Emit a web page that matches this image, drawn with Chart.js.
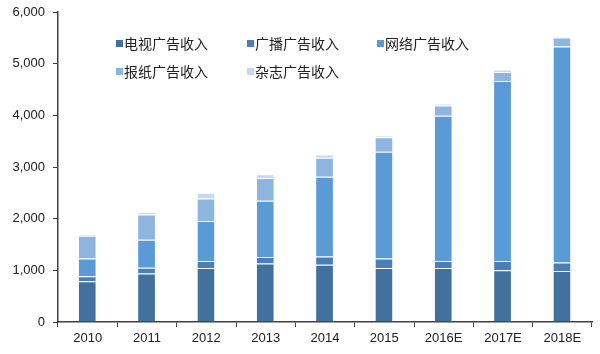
<!DOCTYPE html>
<html>
<head>
<meta charset="utf-8">
<script src="https://cdn.jsdelivr.net/npm/chart.js@4"></script>
<style>
  html,body{margin:0;padding:0;background:#fff}
  #wrap{width:600px;height:354px}
</style>
</head>
<body>
<div id="wrap"><canvas id="c"></canvas></div>
<script>
const years = ['2010','2011','2012','2013','2014','2015','2016E','2017E','2018E']
const tv        = [790, 940, 1045, 1130, 1110, 1045, 1045, 1000, 985]
const radio     = [95, 110, 135, 130, 160, 185, 135, 180, 165]
const online    = [345, 540, 775, 1085, 1540, 2065, 2810, 3485, 4180]
const newspaper = [440, 490, 435, 440, 370, 280, 200, 175, 175]
const magazine  = [30, 50, 110, 75, 60, 30, 35, 45, 25]
const seriesNames = ['电视广告收入','广播广告收入','网络广告收入','报纸广告收入','杂志广告收入']
const colors = ['#41719c','#4a7eb8','#5b9bd5','#8eb4e0','#c5d9f1']
const yTicks = [0,1000,2000,3000,4000,5000,6000]

const allData = [tv, radio, online, newspaper, magazine]

// legend laid out inside the plot, 3 columns x 2 rows
const legendBox = {
  id: 'legendBox',
  afterDraw(chart) {
    const ctx = chart.ctx
    const cols = [116, 247, 377], rows = [44, 72]
    ctx.save()
    ctx.font = '14px "Noto Sans CJK SC"'
    ctx.textBaseline = 'middle'
    seriesNames.forEach((n, i) => {
      const x = cols[i % 3], y = rows[Math.floor(i / 3)]
      ctx.fillStyle = colors[i]
      ctx.fillRect(x, y - 4, 7, 7)
      ctx.fillStyle = '#222'
      ctx.fillText(n, x + 8, y)
    })
    ctx.restore()
  }
}

new Chart(document.getElementById('c'), {
  type: 'bar',
  data: {
    labels: years,
    datasets: allData.map((d, i) => ({
      label: seriesNames[i],
      data: d,
      backgroundColor: colors[i],
      borderColor: 'rgba(255,255,255,0.6)',
      borderWidth: {top: 1, right: 1, left: 0, bottom: 0},
      barPercentage: 0.3,
      categoryPercentage: 1
    }))
  },
  options: {
    responsive: true,
    maintainAspectRatio: false,
    animation: false,
    layout: { padding: { top: 12, right: 8, left: 0, bottom: 0 } },
    plugins: { legend: { display: false }, tooltip: { enabled: false } },
    scales: {
      x: {
        stacked: true,
        grid: { display: true, drawOnChartArea: false, offset: true, color: '#404040', tickLength: 5 },
        border: { color: '#404040', width: 1.5 },
        ticks: { color: '#222', font: { family: 'Liberation Sans, Arial', size: 13 }, padding: 4 },
        afterFit: s => { s.height = 32; s.paddingLeft = 0; s.paddingRight = 0 }
      },
      y: {
        stacked: true,
        min: 0, max: 6000,
        afterBuildTicks: s => { s.ticks = yTicks.map(v => ({ value: v })) },
        grid: { display: true, drawOnChartArea: false, color: '#404040', tickLength: 5 },
        border: { color: '#404040', width: 1.5 },
        ticks: {
          color: '#222',
          font: { family: 'Liberation Sans, Arial', size: 13 },
          padding: 8,
          callback: v => v.toLocaleString('en-US')
        },
        afterFit: s => { s.width = 58; s.paddingTop = 0; s.paddingBottom = 0 }
      }
    }
  },
  plugins: [legendBox]
})
</script>
</body>
</html>
